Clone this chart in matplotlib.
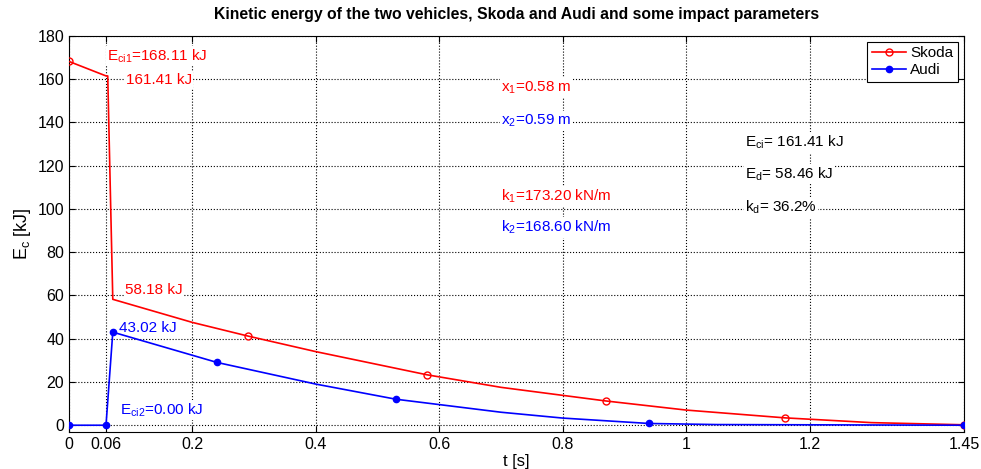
import matplotlib.pyplot as plt
import numpy as np

plt.rcParams['font.family'] = ['Liberation Sans', 'DejaVu Sans']

# Skoda kinetic energy [kJ] vs t [s]
t_skoda = [0.0, 0.06, 0.0628, 0.071, 0.2, 0.29, 0.4, 0.58, 0.7, 0.87, 1.0, 1.16, 1.3, 1.45]
e_skoda = [168.11, 161.41, 161.41, 58.18, 47.5, 41.2, 34.0, 23.3, 17.5, 11.2, 7.0, 3.4, 1.2, 0.2]
mk_skoda = [0, 5, 7, 9, 11, 13]

# Audi
t_audi = [0.0, 0.06, 0.071, 0.24, 0.4, 0.53, 0.7, 0.8, 0.94, 1.05, 1.45]
e_audi = [0.0, 0.0, 43.02, 29.0, 19.0, 12.0, 6.0, 3.3, 0.8, 0.3, 0.0]
mk_audi = [0, 1, 2, 3, 5, 8, 10]

xticks = [0, 0.06, 0.2, 0.4, 0.6, 0.8, 1.0, 1.2, 1.45]
xticklabels = ['0', '0.06', '0.2', '0.4', '0.6', '0.8', '1', '1.2', '1.45']
yticks = list(range(0, 181, 20))

fig = plt.figure(figsize=(9.81, 4.69), dpi=100)
ax = fig.add_axes([0.0703, 0.0795, 0.9124, 0.8444])

ax.plot(t_skoda, e_skoda, color='red', lw=1.2, marker='o', ms=5, mfc='none',
        mew=1.0, markevery=mk_skoda, label='Skoda', zorder=4)
ax.plot(t_audi, e_audi, color='blue', lw=1.2, marker='o', ms=4.5, mfc='blue',
        markevery=mk_audi, label='Audi', zorder=4)

ax.set_xlim(0, 1.45)
ax.set_ylim(-3, 180)
ax.set_xticks(xticks)
ax.set_xticklabels(xticklabels)
ax.set_yticks(yticks)
ax.tick_params(direction='in', top=True, right=True, labelsize=11.5, length=4)
ax.grid(True, color='black', linestyle=':', linewidth=0.8)

box = dict(facecolor='white', edgecolor='none', pad=1)
fs = 11
kw = dict(fontsize=fs, va='center', bbox=box, zorder=3)
ax.text(0.062, 170.5, r'E$_{\mathregular{ci1}}$=168.11 kJ', color='red', **kw)
ax.text(0.092, 159.7, '161.41 kJ', color='red', **kw)
ax.text(0.091, 62.3, '58.18 kJ', color='red', **kw)
ax.text(0.081, 44.8, '43.02 kJ', color='blue', **kw)
ax.text(0.083, 7, r'E$_{\mathregular{ci2}}$=0.00 kJ', color='blue', **kw)

ax.text(0.70, 156, r'x$_{\mathregular{1}}$=0.58 m', color='red', **kw)
ax.text(0.70, 140.7, r'x$_{\mathregular{2}}$=0.59 m', color='blue', **kw)
ax.text(0.70, 106, r'k$_{\mathregular{1}}$=173.20 kN/m', color='red', **kw)
ax.text(0.70, 91.4, r'k$_{\mathregular{2}}$=168.60 kN/m', color='blue', **kw)

ax.text(1.095, 130.7, r'E$_{\mathregular{ci}}$= 161.41 kJ', color='black', **kw)
ax.text(1.095, 116, r'E$_{\mathregular{d}}$= 58.46 kJ', color='black', **kw)
ax.text(1.095, 100.6, r'k$_{\mathregular{d}}$= 36.2%', color='black', **kw)

ax.set_xlabel('t [s]', fontsize=12, labelpad=2)
ax.set_ylabel(r'E$_{\mathregular{c}}$ [kJ]', fontsize=13, labelpad=3)
ax.set_title('Kinetic energy of the two vehicles, Skoda and Audi and some impact parameters',
             fontsize=11.3, fontweight='bold', pad=12)

leg = ax.legend(loc='upper right', fontsize=11, fancybox=False, framealpha=1,
                edgecolor='black', borderaxespad=0.4, handlelength=2.2,
                borderpad=0.3, labelspacing=0.2, handletextpad=0.3)
leg.get_frame().set_linewidth(0.8)
leg.set_zorder(5)

fig.savefig('out.png', dpi=100)
